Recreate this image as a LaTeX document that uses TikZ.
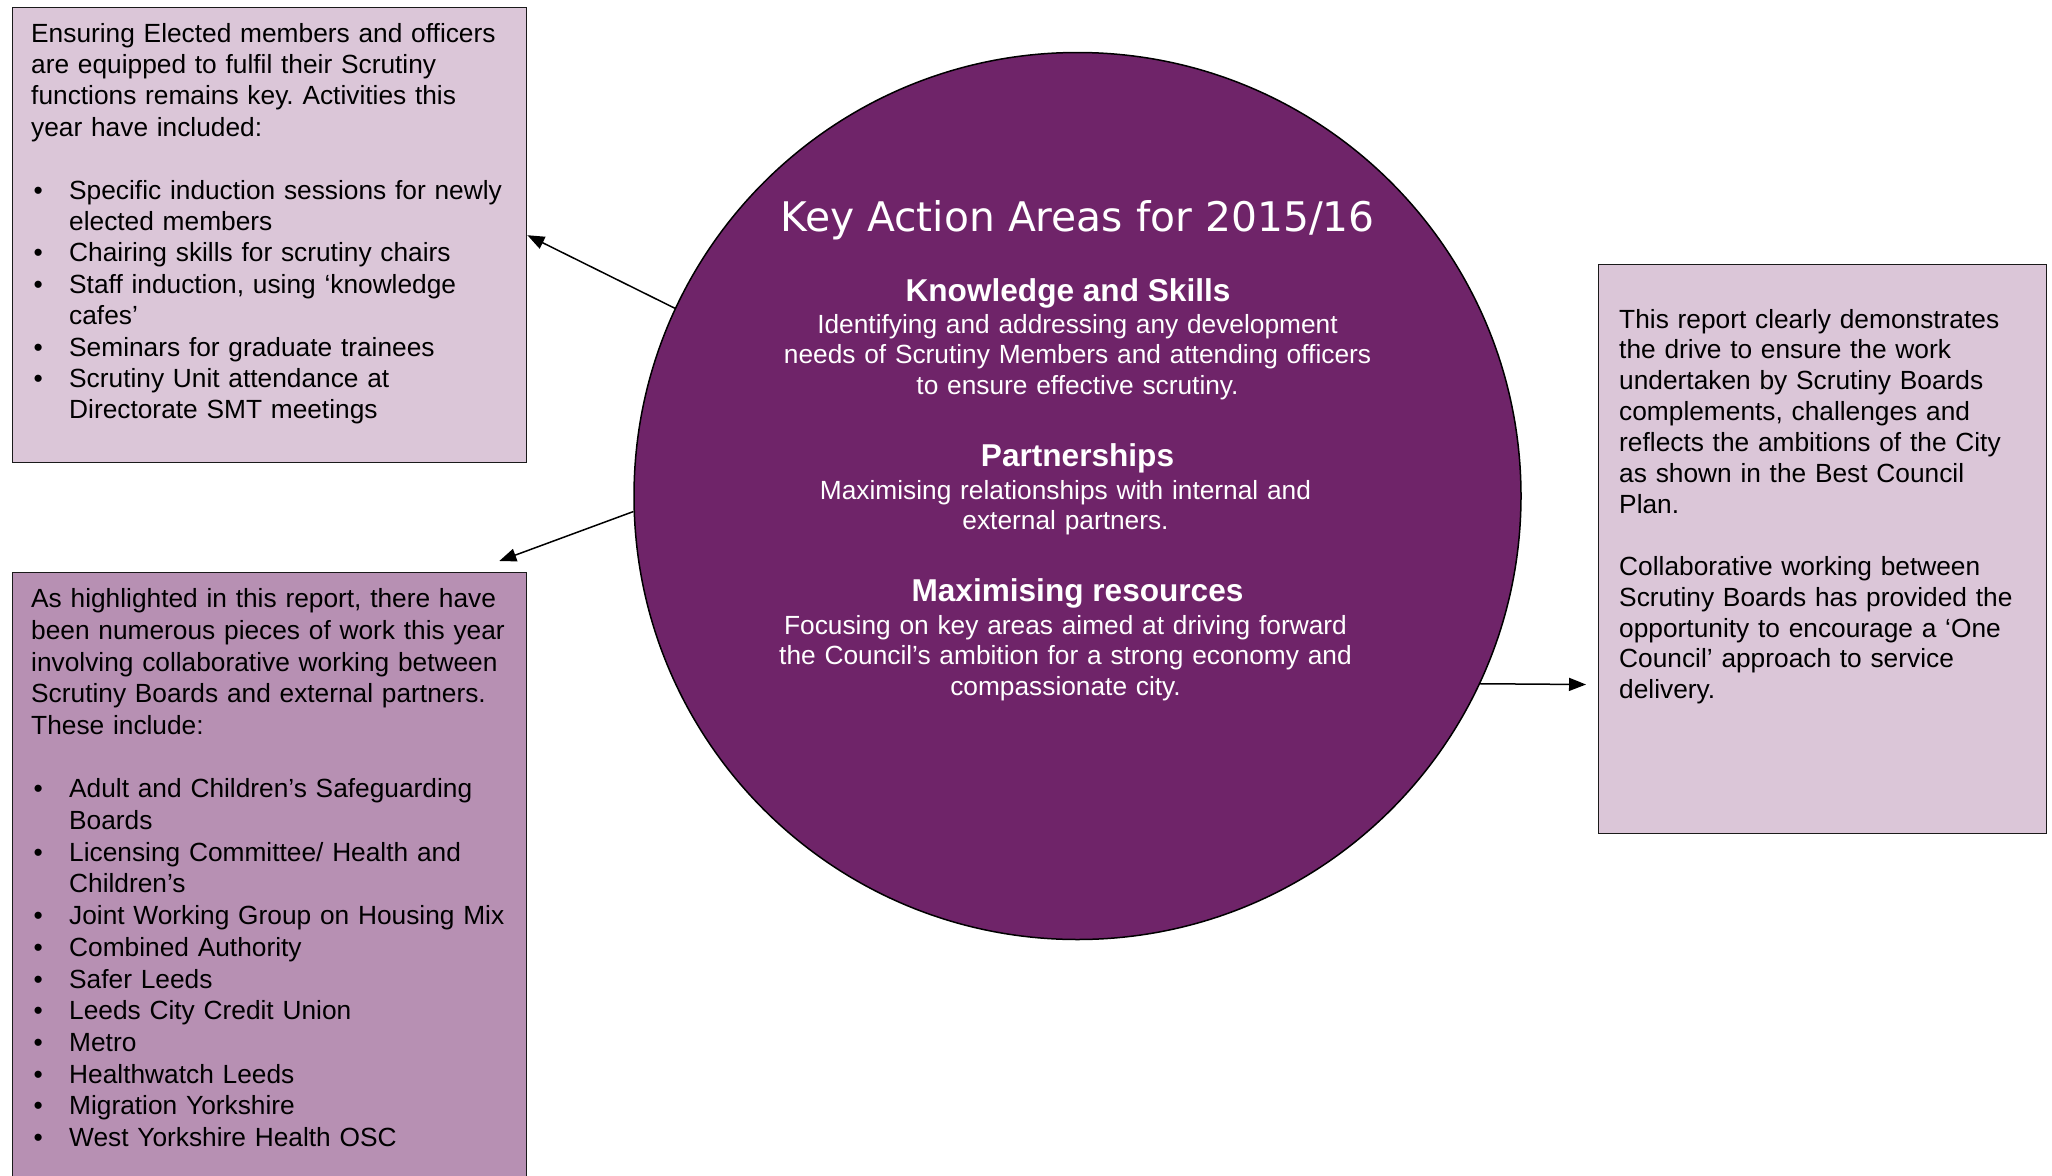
\documentclass[tikz,border=0pt]{standalone}
\usepackage{fontspec}
\setmainfont{Liberation Sans}
\newfontfamily\titlefont{DejaVu Sans}
\usetikzlibrary{arrows.meta}
\frenchspacing
\definecolor{circfill}{HTML}{6F2469}
\definecolor{lightbox}{HTML}{DBC6D8}
\definecolor{darkbox}{HTML}{B790B3}
\definecolor{edge}{HTML}{1A1A1A}
\tikzset{
  box/.style={draw=edge, line width=1.4pt, rectangle, inner sep=0pt, anchor=north west},
  boxtext/.style={anchor=base west, inner sep=0pt, align=left, text width=#1},
  bodyfont/.style={font=\frenchspacing\fontsize{26.3}{#1}\selectfont},
  circtext/.style={anchor=base, inner sep=0pt, align=center, text width=700pt, text=white, font=\frenchspacing\fontsize{26.3}{30.5}\selectfont},
  headtext/.style={anchor=base, inner sep=0pt, text=white, font=\fontsize{31.6}{36}\selectfont\bfseries},
  conn/.style={line width=1.5pt, draw=black, -{Triangle[length=17pt,width=13pt]}},
}
\newcommand{\bul}{\makebox[38pt][l]{\hspace{2.5pt}•}}
\newcommand{\cont}{\hspace*{38pt}}
\begin{document}
\begin{tikzpicture}[x=1pt,y=-1pt]
\clip (0,0) rectangle (2052,1175);
\fill[white] (0,0) rectangle (2052,1175);

% boxes
\node[box, fill=lightbox, minimum width=514pt, minimum height=455pt] (tl) at (12,7) {};
\node[box, fill=darkbox, minimum width=514pt, minimum height=640pt] (bl) at (12,572) {};
\node[box, fill=lightbox, minimum width=448pt, minimum height=569pt] (rb) at (1598,264) {};

% circle
\node[circle, draw=black, line width=1.5pt, fill=circfill, minimum size=887pt, inner sep=0pt] (circ) at (1077.5,496) {};

% top-left text
\node[boxtext=490pt, bodyfont=31.4] (tltext) at (31,42) {Ensuring Elected members and officers\\
are equipped to fulfil their Scrutiny\\
functions remains key. Activities this\\
year have included:\\
~\\
\bul Specific induction sessions for newly\\
\cont elected members\\
\bul Chairing skills for scrutiny chairs\\
\bul Staff induction, using ‘knowledge\\
\cont cafes’\\
\bul Seminars for graduate trainees\\
\bul Scrutiny Unit attendance at\\
\cont Directorate SMT meetings};

% bottom-left text
\node[boxtext=490pt, bodyfont=31.7] (bltext) at (31,607.6) {As highlighted in this report, there have\\
been numerous pieces of work this year\\
involving collaborative working between\\
Scrutiny Boards and external partners.\\
These include:\\
~\\
\bul Adult and Children’s Safeguarding\\
\cont Boards\\
\bul Licensing Committee/ Health and\\
\cont Children’s\\
\bul Joint Working Group on Housing Mix\\
\bul Combined Authority\\
\bul Safer Leeds\\
\bul Leeds City Credit Union\\
\bul Metro\\
\bul Healthwatch Leeds\\
\bul Migration Yorkshire\\
\bul West Yorkshire Health OSC};

% right text
\node[boxtext=420pt, bodyfont=30.9] (rbtext) at (1619,328) {This report clearly demonstrates\\
the drive to ensure the work\\
undertaken by Scrutiny Boards\\
complements, challenges and\\
reflects the ambitions of the City\\
as shown in the Best Council\\
Plan.\\
~\\
Collaborative working between\\
Scrutiny Boards has provided the\\
opportunity to encourage a ‘One\\
Council’ approach to service\\
delivery.};

% circle text
\node[anchor=base, inner sep=0pt, text=white, font=\titlefont\fontsize{40.8}{48}\selectfont] (title) at (1077.5,231) {Key Action Areas for 2015/16};
\node[headtext] (h1) at (1068,301) {Knowledge and Skills};
\node[circtext] (b1) at (1077.5,333) {Identifying and addressing any development\\
needs of Scrutiny Members and attending officers\\
to ensure effective scrutiny.};
\node[headtext] (h2) at (1077.5,466) {Partnerships};
\node[circtext] (b2) at (1065.5,499) {Maximising relationships with internal and\\
external partners.};
\node[headtext] (h3) at (1077.5,601) {Maximising resources};
\node[circtext] (b3) at (1065.5,634) {Focusing on key areas aimed at driving forward\\
the Council’s ambition for a strong economy and\\
compassionate city.};

% connectors
\coordinate (a2end) at (499.3,561);
\coordinate (a3end) at (1586,684.5);
\draw[conn] (circ.155.8) -- (tl.east);
\draw[conn] (circ.182.3) -- (a2end);
\draw[conn] (circ.-25.1) -- (a3end);
\end{tikzpicture}
\end{document}
